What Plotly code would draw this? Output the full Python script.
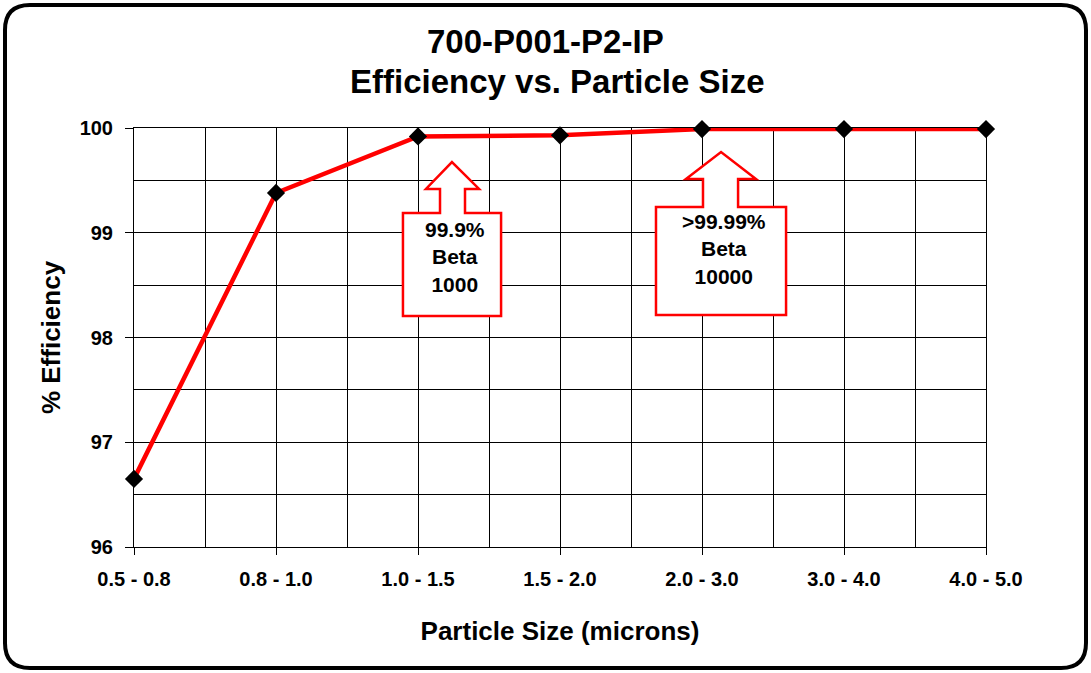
import plotly.graph_objects as go

categories = ["0.5 - 0.8", "0.8 - 1.0", "1.0 - 1.5", "1.5 - 2.0", "2.0 - 3.0", "3.0 - 4.0", "4.0 - 5.0"]
efficiency = [96.65, 99.38, 99.92, 99.93, 99.99, 99.99, 99.99]
y_ticks = [96, 97, 98, 99, 100]

title_line1 = "700-P001-P2-IP"
title_line2 = "Efficiency vs. Particle Size"
callout1_text = "99.9%<br>Beta<br>1000"
callout2_text = ">99.99%<br>Beta<br>10000"

FONT = "Liberation Sans, Arial, sans-serif"
x_idx = list(range(len(categories)))

fig = go.Figure()
fig.add_trace(go.Scatter(
    x=x_idx, y=efficiency, mode="lines+markers",
    line=dict(color="#ff0000", width=4.5),
    marker=dict(symbol="diamond", size=14, color="black"),
    showlegend=False, hoverinfo="y", cliponaxis=False,
))

def callout_path(bl, br, bt, bb, sl, sr, sy, hl, hr, tx, ty):
    return (f"M {bl} {bb} L {br} {bb} L {br} {bt} L {sr} {bt} L {sr} {sy} "
            f"L {hr} {sy} L {tx} {ty} L {hl} {sy} L {sl} {sy} L {sl} {bt} L {bl} {bt} Z")

shapes = []
shapes.append(dict(type="path", xref="x", yref="y", layer="above",
                   path=callout_path(1.894, 2.585, 99.189, 98.205, 2.155, 2.331, 99.418, 2.056, 2.430, 2.239, 99.675),
                   line=dict(color="#ff0000", width=2.5), fillcolor="white"))
shapes.append(dict(type="path", xref="x", yref="y", layer="above",
                   path=callout_path(3.676, 4.592, 99.246, 98.215, 4.007, 4.254, 99.513, 3.887, 4.380, 4.134, 99.771),
                   line=dict(color="#ff0000", width=2.5), fillcolor="white"))

# Outer rounded border (paper coords)
L, R, T, B = -0.15141, 1.11737, 1.29356, -0.28878
rx, ry = 0.0293, 0.0597
border = (f"M {L+rx} {T} L {R-rx} {T} Q {R} {T} {R} {T-ry} L {R} {B+ry} Q {R} {B} {R-rx} {B} "
          f"L {L+rx} {B} Q {L} {B} {L} {B+ry} L {L} {T-ry} Q {L} {T} {L+rx} {T} Z")
shapes.append(dict(type="path", xref="paper", yref="paper", layer="above",
                   path=border, line=dict(color="black", width=4)))

annotations = [
    dict(text=f"<b>{title_line1}</b>", xref="paper", yref="paper", x=(545.5-134)/852, y=(547-42)/419,
         showarrow=False, font=dict(family=FONT, size=33, color="black"), xanchor="center", yanchor="middle"),
    dict(text=f"<b>{title_line2}</b>", xref="paper", yref="paper", x=(557-134)/852, y=(547-82)/419,
         showarrow=False, font=dict(family=FONT, size=33, color="black"), xanchor="center", yanchor="middle"),
    dict(text=f"<b>{callout1_text}</b>", xref="x", yref="y", x=2.264, y=98.77,
         showarrow=False, font=dict(family=FONT, size=21, color="black"), xanchor="center", yanchor="middle"),
    dict(text=f"<b>{callout2_text}</b>", xref="x", yref="y", x=4.155, y=98.845,
         showarrow=False, font=dict(family=FONT, size=21, color="black"), xanchor="center", yanchor="middle"),
]

fig.update_layout(
    width=1091, height=673,
    margin=dict(l=134, r=105, t=128, b=126, autoexpand=False),
    paper_bgcolor="white", plot_bgcolor="white",
    font=dict(family=FONT, color="black"),
    shapes=shapes, annotations=annotations,
    xaxis=dict(
        range=[0, 6], tickvals=x_idx, ticktext=[f"<b>{c}</b>" for c in categories],
        tickfont=dict(size=20, family=FONT, color="black"),
        showgrid=True, gridcolor="black", gridwidth=1,
        minor=dict(dtick=0.5, tick0=0, showgrid=True, gridcolor="black", gridwidth=1, ticks=""),
        ticks="outside", ticklen=7, tickcolor="black", tickwidth=1,
        showline=True, linecolor="black", linewidth=1, mirror=True, zeroline=False,
        ticklabelstandoff=7,
        title=dict(text="<b>Particle Size (microns)</b>", font=dict(size=26, family=FONT, color="black"), standoff=32),
        fixedrange=True,
    ),
    yaxis=dict(
        range=[96, 100], tickvals=y_ticks, ticktext=[f"<b>{v}</b>" for v in y_ticks],
        tickfont=dict(size=20, family=FONT, color="black"),
        showgrid=True, gridcolor="black", gridwidth=1,
        minor=dict(dtick=0.5, tick0=96, showgrid=True, gridcolor="black", gridwidth=1, ticks=""),
        ticks="outside", ticklen=8, tickcolor="black", tickwidth=1,
        showline=True, linecolor="black", linewidth=1, mirror=True, zeroline=False,
        ticklabelstandoff=8,
        title=dict(text="<b>% Efficiency</b>", font=dict(size=26, family=FONT, color="black"), standoff=11),
        fixedrange=True,
    ),
)

fig.write_html("out.html", config={"displayModeBar": False},
               post_script="document.body.style.margin='0px';document.body.style.padding='0px';")
